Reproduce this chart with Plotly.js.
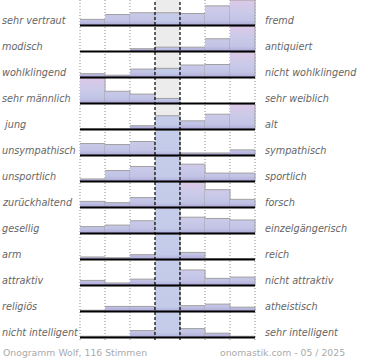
<!DOCTYPE html>
<html>
<head>
<meta charset="utf-8">
<script src="https://cdn.plot.ly/plotly-3.0.1.min.js"></script>
<style>html,body{margin:0;padding:0;background:#fff;}#chart{width:370px;height:360px;}</style>
</head>
<body>
<div id="chart"></div>
<script>
// Left and right pole labels of each semantic scale (top to bottom)
const leftLabels = ["sehr vertraut","modisch","wohlklingend","sehr männlich","\u00a0jung","unsympathisch","unsportlich","zurückhaltend","gesellig","arm","attraktiv","religiös","nicht intelligent"];
const rightLabels = ["fremd","antiquiert","nicht wohlklingend","sehr weiblich","alt","sympathisch","sportlich","forsch","einzelgängerisch","reich","nicht attraktiv","atheistisch","sehr intelligent"];

// Relative share of votes for the 7 scale steps of every row (1 = row maximum)
const row01 = [0.24, 0.43, 0.50, 0.50, 0.47, 0.77, 1.00];
const row02 = [0.00, 0.00, 0.11, 0.17, 0.17, 0.50, 1.00];
const row03 = [0.15, 0.09, 0.33, 0.36, 0.49, 0.51, 1.00];
const row04 = [1.00, 0.48, 0.37, 0.20, 0.00, 0.00, 0.00];
const row05 = [0.03, 0.03, 0.15, 0.54, 0.34, 0.60, 1.00];
const row06 = [0.47, 0.43, 0.55, 1.00, 0.10, 0.10, 0.22];
const row07 = [0.10, 0.43, 0.59, 1.00, 0.68, 0.33, 0.33];
const row08 = [0.24, 0.19, 0.39, 1.00, 0.98, 0.70, 0.32];
const row09 = [0.27, 0.33, 0.50, 1.00, 0.64, 0.59, 0.53];
const row10 = [0.10, 0.07, 0.19, 1.00, 0.28, 0.04, 0.04];
const row11 = [0.20, 0.10, 0.25, 1.00, 0.61, 0.28, 0.33];
const row12 = [0.05, 0.20, 0.20, 1.00, 0.23, 0.29, 0.17];
const row13 = [0.05, 0.05, 0.27, 1.00, 0.35, 0.17, 0.05];
const rows = [row01,row02,row03,row04,row05,row06,row07,row08,row09,row10,row11,row12,row13];

const footerLeft = "Onogramm Wolf, 116 Stimmen";
const footerRight = "onomastik.com - 05 / 2025";

// ---- drawing ----
const nRows = rows.length, FULL = 0.98;
const sideScale = [[0,'#a090c6'],[0.08,'#b6b3dc'],[0.2,'#c2c4e6'],[0.5,'#c9cae9'],[0.78,'#d4c9e8'],[1,'#dfc8e6']];
const centerScale = [[0,'#a090c6'],[0.08,'#b8bce2'],[0.2,'#c4cbe9'],[1,'#c6cdea']];
const traces = [];
rows.forEach((vals, i) => {
  const b = nRows - 1 - i;
  vals.forEach((v, j) => {
    if (v <= 0) return;
    const top = b + v * FULL;
    traces.push({
      type: 'scatter', mode: 'lines',
      x: [j, j + 1, j + 1, j],
      y: [top, top, b, b],
      fill: 'toself',
      fillgradient: {type: 'vertical', start: b, stop: b + 1, colorscale: j === 3 ? centerScale : sideScale},
      line: {color: '#a0a0a0', width: 1},
      hoverinfo: 'skip', showlegend: false
    });
  });
});

const yTop = 337.5/26, yBot = -0.096;
const shapes = [];
shapes.push({type:'rect', xref:'x', yref:'y', x0:3, x1:4, y0:0, y1:yTop, fillcolor:'#ececec', line:{width:0}, layer:'below'});
[0,1,2,5,6,7].forEach(x => shapes.push({type:'line', xref:'x', yref:'y', x0:x, x1:x, y0:yBot, y1:yTop, line:{color:'#8a8a8a', width:1, dash:'1px,2px'}, layer:'below'}));
[3,4].forEach(x => shapes.push({type:'line', xref:'x', yref:'y', x0:x, x1:x, y0:yBot, y1:yTop, line:{color:'#000', width:1.2, dash:'3px,2px'}, layer:'above'}));
for (let i = 0; i < nRows; i++) {
  const b = nRows - 1 - i;
  shapes.push({type:'line', xref:'x', yref:'y', x0:0, x1:7, y0:b, y1:b, line:{color:'#000', width:2}, layer:'above'});
}

const L = 79, PW = 177;
const labelFont = {family:'DejaVu Sans', size:9.7, color:'#666', style:'italic'};
const annotations = [];
leftLabels.forEach((t, i) => annotations.push({text:t, xref:'paper', yref:'y', x:(0 - L)/PW, y:nRows - 1 - i + 0.21, xanchor:'left', yanchor:'middle', showarrow:false, font:labelFont}));
rightLabels.forEach((t, i) => annotations.push({text:t, xref:'paper', yref:'y', x:(263 - L)/PW, y:nRows - 1 - i + 0.21, xanchor:'left', yanchor:'middle', showarrow:false, font:labelFont}));
const footFont = {family:'DejaVu Sans', size:9.3, color:'#aaaaaa'};
annotations.push({text:footerLeft, xref:'paper', yref:'paper', x:(1 - L)/PW, y:-12/340, xanchor:'left', yanchor:'middle', showarrow:false, font:footFont});
annotations.push({text:footerRight, xref:'paper', yref:'paper', x:(347 - L)/PW, y:-12/340, xanchor:'right', yanchor:'middle', showarrow:false, font:footFont});

const layout = {
  width:370, height:360,
  margin:{l:L, r:370 - L - PW, t:0, b:20, pad:0},
  paper_bgcolor:'#fff', plot_bgcolor:'#fff',
  showlegend:false,
  xaxis:{range:[-1/25, 7 + 1/25], visible:false, fixedrange:true},
  yaxis:{range:[yBot, yTop], visible:false, fixedrange:true},
  shapes:shapes, annotations:annotations
};
Plotly.newPlot('chart', traces, layout, {staticPlot:true, displayModeBar:false});
</script>
</body>
</html>
